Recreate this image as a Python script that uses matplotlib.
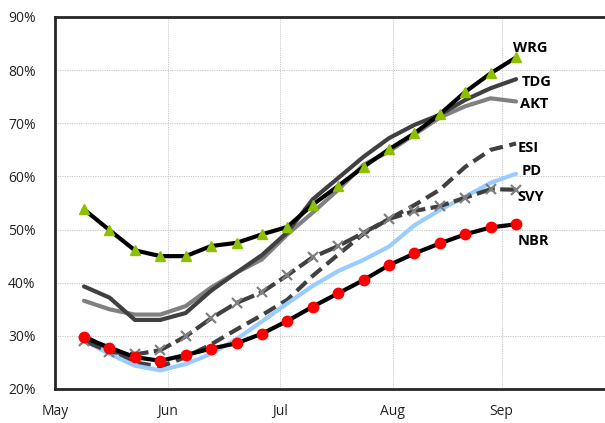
import matplotlib
matplotlib.use("Agg")
import matplotlib.pyplot as plt

# x: days since May 1 (weekly observations)
days = [8, 15, 22, 29, 36, 43, 50, 57, 64, 71, 78, 85, 92, 99, 106, 113, 120, 127]

WRG = [53.8, 49.9, 46.1, 45.0, 45.0, 46.9, 47.5, 49.1, 50.5, 54.7, 58.2, 61.8, 65.1, 68.1, 71.7, 75.9, 79.4, 82.4]
TDG = [39.3, 37.2, 33.0, 33.0, 34.3, 38.5, 41.9, 45.2, 49.5, 55.7, 59.7, 63.7, 67.2, 69.7, 71.6, 74.4, 76.6, 78.3]
AKT = [36.6, 35.0, 34.0, 34.0, 35.6, 39.1, 41.9, 44.4, 49.1, 53.2, 57.5, 62.2, 64.7, 67.9, 71.1, 73.2, 74.7, 74.1]
ESI = [30.0, 27.5, 25.0, 24.2, 26.0, 28.4, 31.2, 33.9, 36.8, 41.3, 45.3, 49.2, 52.0, 54.6, 57.5, 61.8, 65.0, 66.2]
PD  = [29.1, 26.6, 24.4, 23.5, 24.7, 26.6, 29.4, 32.7, 36.1, 39.4, 42.2, 44.3, 46.8, 50.8, 53.7, 56.2, 58.8, 60.5]
SVY = [29.1, 27.0, 26.5, 27.3, 29.9, 33.3, 36.2, 38.2, 41.4, 44.8, 46.9, 49.4, 52.0, 53.5, 54.4, 56.0, 57.6, 57.5]
NBR = [29.7, 27.8, 26.0, 25.3, 26.4, 27.6, 28.6, 30.4, 32.8, 35.5, 38.0, 40.5, 43.3, 45.5, 47.4, 49.1, 50.4, 51.0]

month_ticks = [0, 31, 62, 93, 123]
month_labels = ["May", "Jun", "Jul", "Aug", "Sep"]
y_ticks = [20, 30, 40, 50, 60, 70, 80, 90]
y_labels = ["20%", "30%", "40%", "50%", "60%", "70%", "80%", "90%"]

fig = plt.figure(figsize=(6.05, 4.23), dpi=100)
ax = fig.add_axes([55/605, 1 - 389/423, 1 - 55/605, (389 - 17)/423])

ax.plot(days, AKT, color="#808080", lw=3.0, solid_capstyle="round", solid_joinstyle="round", zorder=3)
ax.plot(days, TDG, color="#404040", lw=3.0, solid_capstyle="round", solid_joinstyle="round", zorder=3)
ax.plot(days, ESI, color="#404040", lw=3.0, ls=(0, (3.2, 1.6)), zorder=3)
ax.plot(days, PD, color="#99CCFF", lw=3.0, solid_capstyle="round", solid_joinstyle="round", zorder=3)
ax.plot(days, SVY, color="#404040", lw=3.0, ls=(0, (4.5, 1.3)), marker="x",
        ms=6.5, mec="#808080", mew=1.6, zorder=4)
ax.plot(days, NBR, color="black", lw=3.0, marker="o", ms=7.5,
        mfc="#FF0000", mec="#FF0000", solid_joinstyle="round", zorder=5)
ax.plot(days, WRG, color="black", lw=3.0, marker="^", ms=7.5,
        mfc="#8DC000", mec="#8DC000", solid_joinstyle="round", zorder=6)

labels = {"WRG": (126.2, 84.2), "TDG": (128.7, 77.8), "AKT": (128.1, 73.7),
          "ESI": (127.3, 65.4), "PD": (128.4, 61.1), "SVY": (127.3, 56.2),
          "NBR": (127.3, 47.8)}
for name, (lx, ly) in labels.items():
    ax.text(lx, ly, name, fontsize=10.5, fontweight="bold", family="Open Sans",
            ha="left", va="center", color="black", zorder=7)

ax.set_xlim(0, 151.5)
ax.set_ylim(20, 90)
ax.set_xticks(month_ticks)
ax.set_xticklabels(month_labels)
ax.set_yticks(y_ticks)
ax.set_yticklabels(y_labels)
for lab in ax.get_xticklabels() + ax.get_yticklabels():
    lab.set_family("Open Sans")
    lab.set_fontsize(10)
    lab.set_color("#222222")
ax.tick_params(axis="both", length=0)
ax.tick_params(axis="x", pad=11)
ax.tick_params(axis="y", pad=14)

ax.grid(True, color="#C8C8C8", ls=(0, (1.2, 1.2)), lw=0.7, zorder=0)
ax.set_axisbelow(True)
for s in ["left", "bottom", "top"]:
    ax.spines[s].set_linewidth(2.0)
    ax.spines[s].set_color("#262626")
ax.spines["right"].set_visible(False)

fig.savefig("out.png", dpi=100)
